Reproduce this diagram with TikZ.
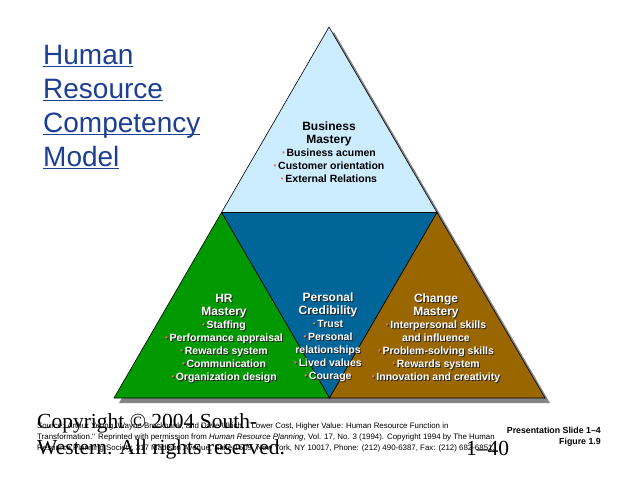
\documentclass[tikz,border=0pt]{standalone}
\usepackage{fontspec}
\usetikzlibrary{calc}
\setmainfont{Liberation Serif}
\newfontfamily\arial{Liberation Sans}
\definecolor{skyfill}{HTML}{CCECFF}
\definecolor{credblue}{HTML}{006699}
\definecolor{hrgreen}{HTML}{009900}
\definecolor{changebrown}{HTML}{996600}
\definecolor{titleblue}{HTML}{1C3F94}
\definecolor{bulletred}{HTML}{E07A5F}
\definecolor{dropgray}{HTML}{858585}
\newcommand{\tul}[1]{\setbox0\hbox{#1}\rlap{\rule[-2.4pt]{\wd0}{1.1pt}}\box0}
\def\bulcol{bulletred}
\newcommand{\bul}{{\fontsize{8}{8}\selectfont\textcolor{\bulcol}{\raisebox{0.8pt}{•}}}\,}
\newcommand{\hd}[1]{{\fontsize{12}{14}\selectfont #1}}
% white area text with a dark drop shadow
\newcommand{\whitelabel}[3]{%
  \node[areashadow] (#1-sh) at ($(#2)+(1,1)$) {#3};
  \node[areatext, text=white] (#1) at (#2) {#3};}

\begin{document}
\begin{tikzpicture}[x=1pt, y=-1pt,
    tri/.style={draw=black, line width=0.6pt, line join=miter},
    areatext/.style={align=center, inner sep=0pt, font=\arial\bfseries\fontsize{10.5}{13}\selectfont},
    areashadow/.style={areatext, text=black!85, execute at begin node={\def\bulcol{black!85}}}]
  \useasboundingbox (0,0) rectangle (638,479);

  % corners of the pyramid
  \coordinate (apex)  at (329,27);
  \coordinate (left)  at (114,398);
  \coordinate (right) at (545,398);
  \coordinate (midL)  at ($(apex)!0.5!(left)$);
  \coordinate (midR)  at ($(apex)!0.5!(right)$);
  \coordinate (midB)  at ($(left)!0.5!(right)$);

  % drop shadow
  \fill[dropgray] ($(apex)+(5,5)$) -- ($(left)+(5,5)$) -- ($(right)+(5,5)$) -- cycle;

  % four areas
  \filldraw[tri, fill=skyfill]     (apex) -- (midL) -- (midR) -- cycle;
  \filldraw[tri, fill=credblue]    (midL) -- (midR) -- (midB) -- cycle;
  \filldraw[tri, fill=hrgreen]     (midL) -- (left) -- (midB) -- cycle;
  \filldraw[tri, fill=changebrown] (midR) -- (midB) -- (right) -- cycle;

  % texts in the areas
  \node[areatext] (business) at (329,152)
    {\hd{Business}\\\hd{Mastery}\\\bul Business acumen\\\bul Customer orientation\\\bul External Relations};
  \whitelabel{hr}{224,338}
    {\hd{HR}\\\hd{Mastery}\\\bul Staffing\\\bul Performance appraisal\\\bul Rewards system\\\bul Communication\\\bul Organization design}
  \whitelabel{credibility}{328,337}
    {\hd{Personal}\\\hd{Credibility}\\\bul Trust\\\bul Personal\\relationships\\\bul Lived values\\\bul Courage}
  \whitelabel{change}{436,338}
    {\hd{Change}\\\hd{Mastery}\\\bul Interpersonal skills\\and influence\\\bul Problem-solving skills\\\bul Rewards system\\\bul Innovation and creativity}

  % title
  \node[anchor=north west, align=left, inner sep=0pt, text=titleblue,
        font=\arial\fontsize{28}{34}\selectfont] (title) at (43,45)
    {\tul{Human}\\\tul{Resource}\\\tul{Competency}\\\tul{Model}};

  % footer
  \node[anchor=north west, align=left, inner sep=0pt,
        font=\arial\fontsize{7.9}{11}\selectfont] (source) at (37,422)
    {Source: Arthur Yeung, Wayne Brockbank, and Dave Ulrich, ``Lower Cost, Higher Value: Human Resource Function in\\
     Transformation.'' Reprinted with permission from \textit{Human Resource Planning}, Vol. 17, No. 3 (1994). Copyright 1994 by The Human\\
     Resource Planning Society, 317 Madison Avenue, Suite 1509, New York, NY 10017, Phone: (212) 490-6387, Fax: (212) 682-6851.};
  \node[anchor=north west, align=left, inner sep=0pt,
        font=\fontsize{21.5}{26}\selectfont] (copyright) at (37,413)
    {Copyright~©~2004~South-\\Western. All rights reserved.};
  \node[anchor=base west, inner sep=0pt, font=\fontsize{21.5}{26}\selectfont] (pageno) at (466,455) {1–40};
  \node[anchor=north east, align=right, inner sep=0pt,
        font=\arial\bfseries\fontsize{8.8}{10.5}\selectfont] (slide) at (601,427)
    {Presentation Slide 1–4\\Figure 1.9};
\end{tikzpicture}
\end{document}
